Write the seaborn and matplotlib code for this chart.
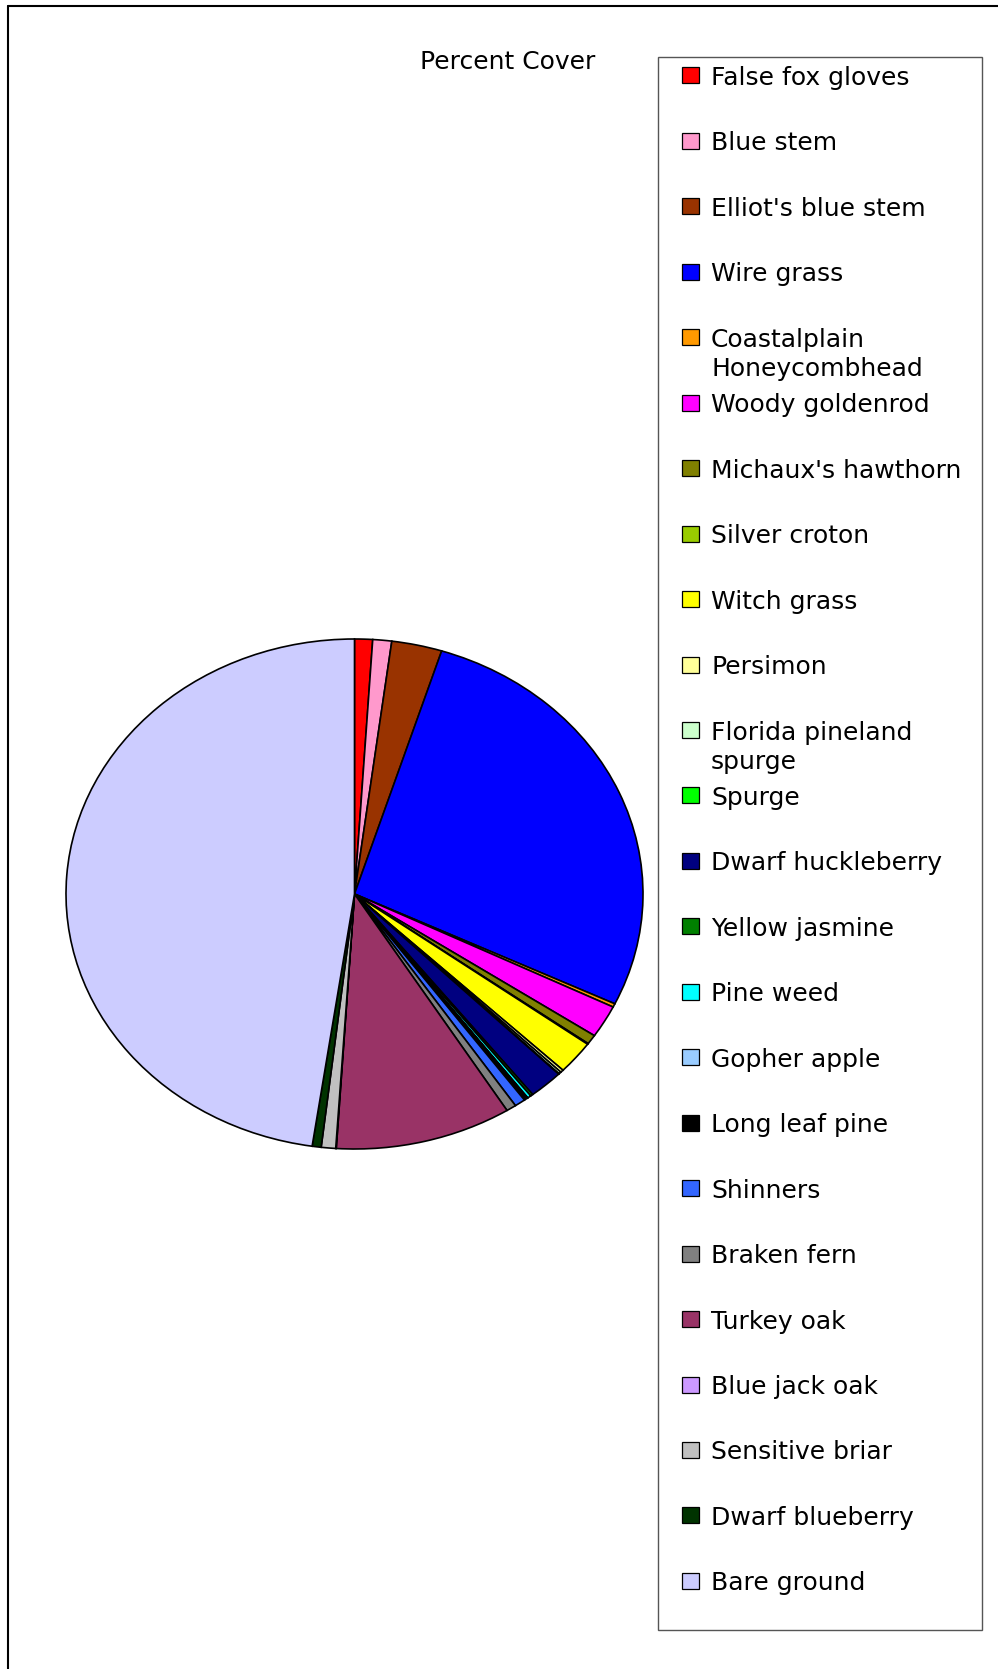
import matplotlib
matplotlib.use("Agg")
import matplotlib.pyplot as plt
from matplotlib.patches import Rectangle
from matplotlib.lines import Line2D
import seaborn as sns

sns.set_theme(style="white")
plt.rcParams["font.family"] = ["DejaVu Sans"]

# Percent cover by species (clockwise from 12 o'clock)
species = [
    "False fox gloves", "Blue stem", "Elliot's blue stem", "Wire grass",
    "Coastalplain\nHoneycombhead", "Woody goldenrod", "Michaux's hawthorn",
    "Silver croton", "Witch grass", "Persimon", "Florida pineland\nspurge",
    "Spurge", "Dwarf huckleberry", "Yellow jasmine", "Pine weed",
    "Gopher apple", "Long leaf pine", "Shinners", "Braken fern",
    "Turkey oak", "Blue jack oak", "Sensitive briar", "Dwarf blueberry",
    "Bare ground",
]
cover = [
    1.0, 1.05, 2.8, 27.0,
    0.22, 2.05, 0.6,
    0.05, 2.1, 0.17, 0.14,
    0.03, 1.9, 0.14, 0.2,
    0.03, 0.2, 0.6, 0.55,
    9.8, 0.03, 0.8, 0.5,
    47.3,
]
colors = sns.color_palette([
    "#FF0000", "#FF99CC", "#993300", "#0000FF",
    "#FF9900", "#FF00FF", "#808000",
    "#99CC00", "#FFFF00", "#FFFF99", "#CCFFCC",
    "#00FF00", "#000080", "#008000", "#00FFFF",
    "#99CCFF", "#000000", "#3366FF", "#808080",
    "#993366", "#CC99FF", "#C0C0C0", "#003300",
    "#CCCCFF",
])
title = "Percent Cover"

W, H = 998, 1669
fig = plt.figure(figsize=(W / 100, H / 100), dpi=100)
fig.patch.set_facecolor("white")


def fx(px):
    return px / W


def fy(py):
    return 1 - py / H


# Pie drawn as an ellipse: the axes box is wider than tall
left, right, top, bottom = 66, 643, 639, 1149
ax = fig.add_axes([fx(left), fy(bottom), fx(right - left), (bottom - top) / H])
ax.pie(cover, colors=colors, startangle=90, counterclock=False,
       wedgeprops=dict(edgecolor="black", linewidth=1.2))
ax.set_aspect("auto")
ax.set_xlim(-1, 1)
ax.set_ylim(-1, 1)
ax.axis("off")

# Outer chart frame (runs off the right and bottom edges)
fig.add_artist(Line2D([fx(8), fx(8)], [fy(6), -0.01], transform=fig.transFigure,
                      color="black", lw=1.5))
fig.add_artist(Line2D([fx(8), 1.01], [fy(6), fy(6)], transform=fig.transFigure,
                      color="black", lw=1.5))

fs = 18
fig.text(fx(508), fy(62), title, ha="center", va="center", fontsize=fs,
         color="black")

# Legend box
lx0, ly0, lx1, ly1 = 658, 57, 982, 1630
fig.add_artist(Rectangle((fx(lx0), fy(ly1)), fx(lx1 - lx0), (ly1 - ly0) / H,
                         transform=fig.transFigure, fill=False,
                         edgecolor="#555555", lw=1.0))

row0, row_step, line_step = 75.5, 65.45, 29
for i, (name, col) in enumerate(zip(species, colors)):
    yc = row0 + i * row_step
    fig.add_artist(Rectangle((fx(682), fy(yc + 8)), fx(17), 16 / H,
                             transform=fig.transFigure, facecolor=col,
                             edgecolor="black", lw=0.9))
    for k, part in enumerate(name.split("\n")):
        fig.text(fx(711), fy(yc + k * line_step), part, ha="left",
                 va="center_baseline", fontsize=fs, color="black")

fig.savefig("out.png", dpi=100)
